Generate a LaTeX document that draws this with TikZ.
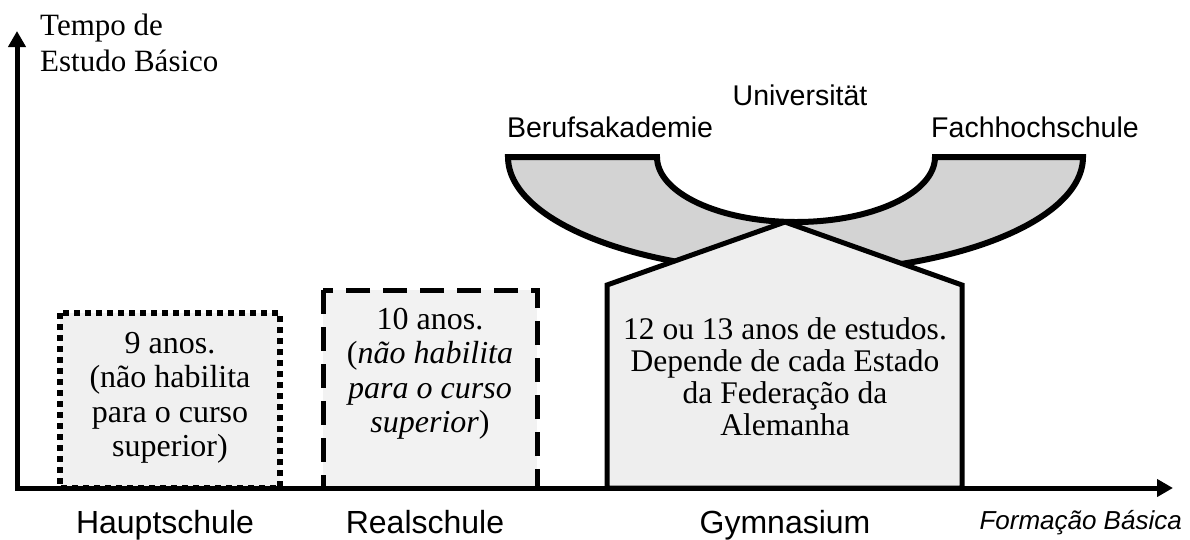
\documentclass[tikz,border=0pt]{standalone}
\usepackage{fontspec}
\setmainfont{Liberation Serif}
\setsansfont{Liberation Sans}
\usetikzlibrary{arrows.meta}
\definecolor{bowlgray}{HTML}{D3D3D3}
\definecolor{gymgray}{HTML}{EEEEEE}
\definecolor{hauptgray}{HTML}{F0F0F0}
\definecolor{realgray}{HTML}{F2F2F2}
\tikzset{
  axis/.style={line width=5pt, -{Triangle[length=16pt,width=17pt]}},
  school/.style={anchor=base, font=\sffamily\fontsize{32}{36}\selectfont},
  uni/.style={anchor=base, font=\sffamily\fontsize{28.5}{32}\selectfont},
  info/.style={align=center, inner sep=0pt, font=\fontsize{32}{34.5}\selectfont},
}
\begin{document}
\begin{tikzpicture}[x=1pt,y=-1pt]
\useasboundingbox (0,0) rectangle (1190,539);
% ensino superior
\filldraw[fill=bowlgray, line width=6pt] (508,157) -- (657,157)
    arc (180:0:139 and 65) -- (1083,157) arc (0:180:287.5 and 115) -- cycle;
\filldraw[fill=gymgray, line width=5pt] (607,488) -- (607,285) -- (785,222)
    -- (962,285) -- (962,488) -- cycle;
% escolas
\filldraw[fill=hauptgray, line width=6pt, dash pattern=on 6pt off 5pt] (60,313) rectangle (280,488);
\filldraw[fill=realgray, line width=5pt, dash pattern=on 24pt off 13pt] (323,290) rectangle (537,488);
% eixos
\coordinate (origin) at (17,488);
\coordinate (ytip) at (17,31);
\coordinate (xtip) at (1173,488);
\draw[axis, line cap=rect] (origin) -- (ytip);
\draw[axis, line cap=rect] (origin) -- (xtip);
\node[anchor=base west, font=\fontsize{31}{36}\selectfont, inner sep=0pt] (tempo) at (40,35) {Tempo de};
\node[anchor=base west, font=\fontsize{31}{36}\selectfont, inner sep=0pt] (estudo) at (40,71) {Estudo Básico};
\node[anchor=base east, font=\sffamily\itshape\fontsize{26}{30}\selectfont, inner sep=0pt] (formacao) at (1182,529) {Formação Básica};
% textos
\node[info] (hauptinfo) at (170,398) {9 anos.\\(não habilita\\para o curso\\superior)};
\node[info] (realinfo) at (430,374) {10 anos.\\(\textit{não habilita}\\\textit{para o curso}\\\textit{superior})};
\node[info, font=\fontsize{31.5}{32}\selectfont] (gyminfo) at (785,377) {12 ou 13 anos de estudos.\\Depende de cada Estado\\da Federação da\\Alemanha};
\node[school] (haupt) at (165,533) {Hauptschule};
\node[school] (real) at (425,533) {Realschule};
\node[school] (gym) at (785,533) {Gymnasium};
\node[uni] (uni) at (800,105) {Universität};
\node[uni] (ba) at (610,137) {Berufsakademie};
\node[uni] (fh) at (1035,137) {Fachhochschule};
\end{tikzpicture}
\end{document}
